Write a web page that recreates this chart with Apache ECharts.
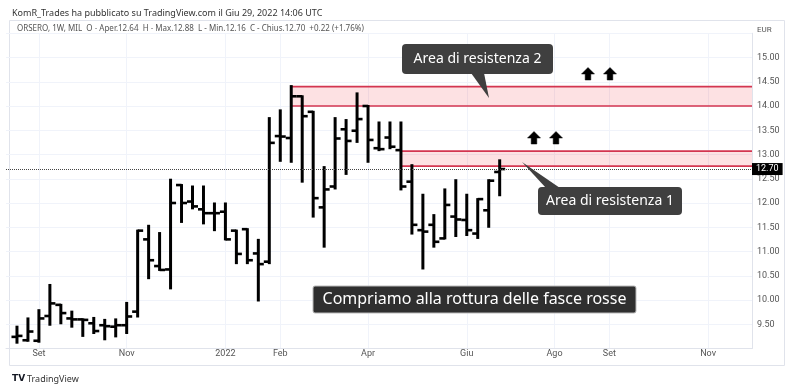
<!DOCTYPE html>
<html lang="it">
<head>
    <meta charset="UTF-8">
    <title>ORSERO 1W</title>
    <script src="https://cdn.jsdelivr.net/npm/echarts@6/dist/echarts.min.js"></script>
    <style>
        html, body { margin: 0; padding: 0; background: #fff; }
        #container { width: 800px; height: 388px; }
    </style>
</head>
<body>
<div id="container"></div>
<script>
    // barre settimanali: [apertura, massimo, minimo, chiusura], dalla settimana del 23 ago 2021
    var ohlc = [
        [9.24, 9.45, 9.12, 9.26], [9.17, 9.62, 9.16, 9.35], [9.16, 9.79, 9.14, 9.62],
        [9.67, 10.31, 9.49, 9.93], [9.90, 9.90, 9.52, 9.73], [9.62, 9.76, 9.45, 9.60],
        [9.60, 9.60, 9.26, 9.59], [9.52, 9.63, 9.32, 9.36], [9.48, 9.59, 9.19, 9.46],
        [9.45, 9.60, 9.25, 9.48], [9.48, 9.94, 9.32, 9.66], [9.76, 11.43, 9.66, 11.43],
        [11.25, 11.53, 10.45, 10.82], [10.70, 11.38, 10.62, 10.62], [10.63, 12.48, 10.24, 12.00],
        [12.37, 12.37, 11.61, 12.00], [12.03, 12.34, 11.89, 11.93], [11.87, 12.34, 11.58, 11.79],
        [11.79, 11.99, 11.44, 11.79], [11.82, 11.99, 11.25, 11.25], [11.43, 11.43, 10.76, 10.95],
        [11.46, 11.46, 10.76, 10.82], [10.96, 11.24, 9.99, 10.74], [10.79, 13.75, 10.76, 13.24],
        [13.38, 13.91, 12.87, 13.37], [13.34, 14.41, 12.85, 14.20], [14.20, 14.20, 12.44, 13.79],
        [13.88, 13.88, 11.72, 12.10], [11.91, 12.74, 11.10, 12.28], [12.34, 13.75, 12.30, 13.33],
        [13.52, 13.71, 12.60, 13.28], [13.49, 14.26, 13.26, 13.73], [14.00, 14.00, 12.85, 13.30],
        [13.13, 13.66, 13.09, 13.11], [13.35, 13.66, 13.13, 13.16], [13.09, 13.66, 12.28, 12.34],
        [12.44, 12.78, 11.37, 11.55], [11.44, 12.17, 10.65, 11.41], [11.55, 11.75, 11.10, 11.20],
        [11.27, 12.28, 11.27, 11.96], [11.72, 12.47, 11.32, 11.66], [11.65, 12.17, 11.34, 11.44],
        [11.37, 12.08, 11.28, 12.08], [11.85, 12.47, 11.51, 12.46], [12.64, 12.88, 12.16, 12.70]
    ];
    var firstBar = 1;      // indice di categoria della prima barra
    var weekCount = 69;    // settimane sull'asse (dal 16 ago 2021)

    // fasce di resistenza: [indice di partenza, minimo, massimo]
    var bands = [[26, 14.00, 14.40], [36, 12.76, 13.07]];
    var lastPrice = 12.70;

    var monthIdx = [3, 11, 20, 25, 33, 42, 50, 55, 64];
    var monthLabels = ['Set', 'Nov', '2022', 'Feb', 'Apr', 'Giu', 'Ago', 'Set', 'Nov'];

    var weeks = [];
    var d0 = new Date(Date.UTC(2021, 7, 16));
    for (var i = 0; i < weekCount; i++) {
        var d = new Date(d0.getTime() + i * 7 * 86400000);
        weeks.push(d.toISOString().slice(0, 10));
    }

    var barData = ohlc.map(function (v, i) {
        return [i + firstBar, v[0], v[1], v[2], v[3]];
    });

    function renderBar(params, api) {
        var idx = api.value(0);
        var hi = api.coord([idx, api.value(2)]);
        var lo = api.coord([idx, api.value(3)]);
        var op = api.coord([idx, api.value(1)]);
        var cl = api.coord([idx, api.value(4)]);
        var st = { stroke: '#000', lineWidth: 2.6 };
        return {
            type: 'group',
            children: [
                { type: 'line', shape: { x1: hi[0], y1: hi[1] - 1, x2: hi[0], y2: lo[1] + 1 }, style: { stroke: '#000', lineWidth: 3 } },
                { type: 'line', shape: { x1: hi[0] - 5.5, y1: op[1], x2: hi[0], y2: op[1] }, style: st },
                { type: 'line', shape: { x1: hi[0], y1: cl[1], x2: hi[0] + 5.5, y2: cl[1] }, style: st }
            ]
        };
    }

    function renderBand(params, api) {
        var a = api.coord([api.value(0), api.value(2)]);
        var b = api.coord([api.value(0), api.value(1)]);
        var right = params.coordSys.x + params.coordSys.width;
        var ln = { stroke: '#d33550', lineWidth: 1.6 };
        return {
            type: 'group',
            children: [
                { type: 'rect', shape: { x: a[0], y: a[1], width: right - a[0], height: b[1] - a[1] }, style: { fill: 'rgba(242,54,69,0.15)' } },
                { type: 'line', shape: { x1: a[0], y1: a[1], x2: right, y2: a[1] }, style: ln },
                { type: 'line', shape: { x1: a[0], y1: b[1], x2: right, y2: b[1] }, style: ln }
            ]
        };
    }

    function callout(x, y, w, h, text, size, tail) {
        var items = [
            { type: 'rect', z: 100, shape: { x: x, y: y, width: w, height: h, r: 4 }, style: { fill: '#3f3f3f' } },
            { type: 'text', z: 101, x: x + w / 2, y: y + h / 2, style: { text: text, fill: '#fff', font: size + 'px "Noto Sans", sans-serif', align: 'center', verticalAlign: 'middle' } }
        ];
        if (tail) {
            items.unshift({ type: 'polygon', z: 100, shape: { points: tail }, style: { fill: '#3f3f3f' } });
        }
        return { type: 'group', z: 100, children: items };
    }

    function arrowUp(cx, cy) {
        return {
            type: 'polygon',
            z: 100,
            shape: { points: [[cx, cy - 6.5], [cx + 6.5, cy], [cx + 2.8, cy], [cx + 2.8, cy + 6], [cx - 2.8, cy + 6], [cx - 2.8, cy], [cx - 6.5, cy]] },
            style: { fill: '#000', stroke: '#000', lineWidth: 0.5 }
        };
    }

    var myChart = echarts.init(document.getElementById('container'));
    var option = {
        animation: false,
        backgroundColor: '#fff',
        grid: { left: 6, right: 48, top: 33.25, bottom: 39.5 },
        xAxis: {
            type: 'category',
            data: weeks,
            boundaryGap: false,
            axisLine: { lineStyle: { color: '#e0e3eb' } },
            axisTick: { show: false },
            axisLabel: {
                interval: function (index) { return monthIdx.indexOf(index) >= 0; },
                formatter: function (value, index) {
                    var k = monthIdx.indexOf(index);
                    return k >= 0 ? monthLabels[k] : '';
                },
                color: '#555',
                fontSize: 9,
                fontFamily: 'Roboto, sans-serif',
                margin: 1
            },
            splitLine: {
                show: true,
                interval: function (index) { return monthIdx.indexOf(index) >= 0; },
                lineStyle: { color: '#f0f3fa' }
            }
        },
        yAxis: {
            type: 'value',
            position: 'right',
            min: 9,
            max: 15.5,
            interval: 0.5,
            axisLine: { show: true, lineStyle: { color: '#e0e3eb' } },
            axisTick: { show: false },
            axisLabel: {
                showMinLabel: false,
                showMaxLabel: false,
                formatter: function (v) { return v.toFixed(2); },
                color: '#555',
                fontSize: 9,
                fontFamily: 'Roboto, sans-serif',
                margin: 5
            },
            splitLine: { lineStyle: { color: '#f0f3fa' } }
        },
        series: [
            {
                type: 'custom',
                name: 'fasce',
                renderItem: renderBand,
                data: bands,
                encode: { x: 0, y: [1, 2] },
                silent: true,
                z: 1
            },
            {
                type: 'custom',
                name: 'ORSERO',
                renderItem: renderBar,
                data: barData,
                encode: { x: 0, y: [1, 2, 3, 4] },
                clip: false,
                z: 3,
                markLine: {
                    silent: true,
                    symbol: 'none',
                    lineStyle: { type: 'dotted', color: '#444', width: 1 },
                    label: {
                        position: 'end',
                        formatter: lastPrice.toFixed(2),
                        backgroundColor: '#000',
                        color: '#fff',
                        fontSize: 9,
                        fontFamily: 'Roboto, sans-serif',
                        padding: [2, 4, 1, 4],
                        distance: 0
                    },
                    data: [{ yAxis: lastPrice }]
                }
            }
        ],
        graphic: [
            { type: 'rect', shape: { x: 9.5, y: 20.5, width: 775, height: 345 }, style: { fill: 'none', stroke: '#e0e3eb', lineWidth: 1 }, z: 0 },
            { type: 'text', z: 100, x: 12, y: 13, style: { text: 'KomR_Trades ha pubblicato su TradingView.com il Giu 29, 2022 14:06 UTC', fill: '#333', font: '9px "Noto Sans", sans-serif', verticalAlign: 'middle' } },
            { type: 'text', z: 100, x: 17, y: 29, style: { text: 'ORSERO, 1W, MIL  O - Aper.12.64  H - Max.12.88  L - Min.12.16  C - Chius.12.70  +0.22 (+1.76%)', fill: '#555', font: '8px "Noto Sans", sans-serif', verticalAlign: 'middle' } },
            { type: 'text', z: 100, x: 757, y: 30, style: { text: 'EUR', fill: '#555', font: '8px Roboto, sans-serif', verticalAlign: 'middle' } },
            { type: 'text', z: 100, x: 12, y: 379, style: { text: 'TV', fill: '#131722', font: 'bold 9px "DejaVu Sans", sans-serif', verticalAlign: 'middle' } },
            { type: 'text', z: 100, x: 27, y: 379, style: { text: 'TradingView', fill: '#333', font: '9px "Noto Sans", sans-serif', verticalAlign: 'middle' } },
            callout(402, 44, 151, 30, 'Area di resistenza 2', 14, [[471, 73], [484, 73], [489, 98]]),
            callout(538, 187, 144, 28, 'Area di resistenza 1', 14, [[522, 162], [546, 188], [560, 188]]),
            {
                type: 'group', z: 100, children: [
                    { type: 'rect', z: 100, shape: { x: 313, y: 286, width: 323, height: 27, r: 2 }, style: { fill: '#2f2f2f', stroke: '#bbb', lineWidth: 1 } },
                    { type: 'text', z: 101, x: 474.5, y: 299.5, style: { text: 'Compriamo alla rottura delle fasce rosse', fill: '#fff', font: '16px "Noto Sans", sans-serif', align: 'center', verticalAlign: 'middle' } }
                ]
            },
            arrowUp(588, 74), arrowUp(610, 74), arrowUp(534, 138), arrowUp(556, 138)
        ]
    };
    myChart.setOption(option);
</script>
</body>
</html>
